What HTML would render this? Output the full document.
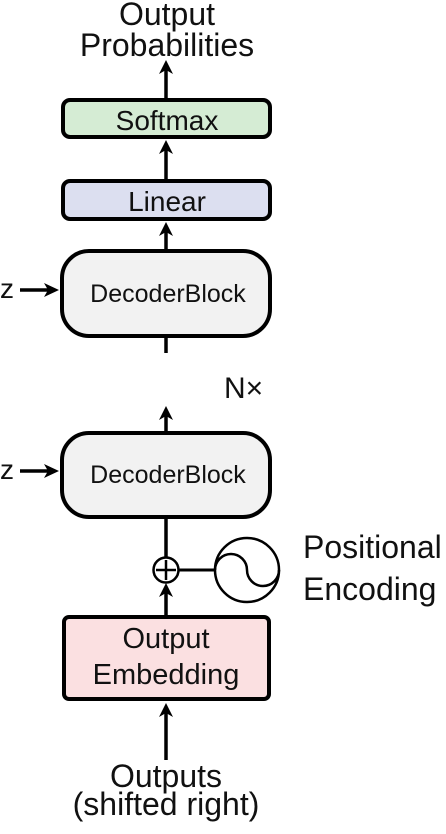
<!DOCTYPE html>
<html><head><style>body{margin:0;background:#fff}</style></head><body>
<svg width="446" height="829" viewBox="0 0 446 829" xmlns="http://www.w3.org/2000/svg" font-family="Liberation Sans, sans-serif">
<g stroke="#000" stroke-width="4" fill="none">
<line x1="166" y1="100" x2="166" y2="68" stroke-width="3.5"/>
<path d="M159,74 L166,60 L173,74 L166,70Z" fill="#000" stroke="none"/>
<line x1="166" y1="180" x2="166" y2="148" stroke-width="3.5"/>
<path d="M159,154 L166,140 L173,154 L166,150Z" fill="#000" stroke="none"/>
<line x1="166" y1="251" x2="166" y2="230" stroke-width="3.5"/>
<path d="M159,236 L166,222 L173,236 L166,232Z" fill="#000" stroke="none"/>
<line x1="166" y1="337" x2="166" y2="353" stroke-width="3.5"/>
<line x1="166" y1="433" x2="166" y2="414" stroke-width="3.5"/>
<path d="M159,420 L166,406 L173,420 L166,416Z" fill="#000" stroke="none"/>
<line x1="166" y1="518" x2="166" y2="558" stroke-width="3.5"/>
<line x1="166" y1="616" x2="166" y2="592" stroke-width="3.5"/>
<path d="M159,597 L166,583 L173,597 L166,593Z" fill="#000" stroke="none"/>
<line x1="166" y1="760" x2="166" y2="712" stroke-width="3.5"/>
<path d="M159,717 L166,703 L173,717 L166,713Z" fill="#000" stroke="none"/>
<line x1="20" y1="290" x2="50" y2="290" stroke-width="3.5"/>
<path d="M44,283 L59,290 L44,297 L48,290Z" fill="#000" stroke="none"/>
<line x1="20" y1="471" x2="50" y2="471" stroke-width="3.5"/>
<path d="M44,464 L59,471 L44,478 L48,471Z" fill="#000" stroke="none"/>
<rect x="63" y="100" width="207" height="37" rx="7" fill="#d5ecd4"/>
<rect x="63" y="181" width="207" height="38" rx="7" fill="#dcdff0"/>
<rect x="62" y="251" width="208" height="85" rx="27" fill="#f2f2f2"/>
<rect x="62" y="433" width="208" height="84" rx="27" fill="#f2f2f2"/>
<rect x="64" y="617" width="205" height="82" rx="5" fill="#fbe0e1"/>
<line x1="178" y1="570" x2="215" y2="570" stroke-width="3"/>
<circle cx="166" cy="570" r="12.5" fill="#fff" stroke-width="2.5"/>
<line x1="156" y1="570" x2="176" y2="570" stroke-width="2.5"/>
<line x1="166" y1="560" x2="166" y2="580" stroke-width="2.5"/>
<circle cx="247" cy="570" r="32" fill="#fff" stroke-width="2.5"/>
<path d="M215,570 A16,16 0 0 1 247,570 A16,16 0 0 0 279,570" stroke-width="2.5"/>
</g>
<g fill="#111" text-anchor="middle">
<text x="167" y="25" font-size="32">Output</text>
<text x="167" y="56" font-size="32">Probabilities</text>
<text x="167" y="130" font-size="28">Softmax</text>
<text x="167" y="211" font-size="28">Linear</text>
<text x="168" y="302" font-size="25">DecoderBlock</text>
<text x="168" y="483" font-size="25">DecoderBlock</text>
<text x="166" y="648" font-size="29">Output</text>
<text x="166" y="684" font-size="29">Embedding</text>
<text x="166" y="787" font-size="32">Outputs</text>
<text x="166" y="815" font-size="32">(shifted right)</text>
</g>
<g fill="#111">
<text x="0" y="298" font-size="28">z</text>
<text x="0" y="479" font-size="28">z</text>
<text x="224" y="398" font-size="30">N×</text>
<text x="303" y="558" font-size="32">Positional</text>
<text x="303" y="600" font-size="32">Encoding</text>
</g>
</svg>
</body></html>
